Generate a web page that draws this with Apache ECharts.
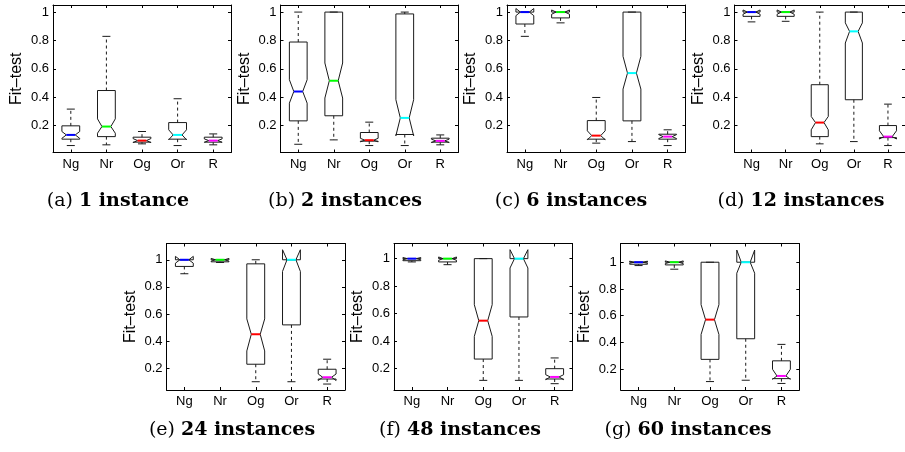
<!DOCTYPE html>
<html>
<head>
<meta charset="utf-8">
<script src="https://cdn.jsdelivr.net/npm/echarts@6/dist/echarts.min.js"></script>
<style>
html,body{margin:0;padding:0;background:#fff;}
#chart{width:905px;height:452px;}
</style>
</head>
<body>
<div id="chart"></div>
<script>
// Categories and ticks
const categories = ['Ng', 'Nr', 'Og', 'Or', 'R'];
const yTicks = [0.2, 0.4, 0.6, 0.8, 1];
const medianColors = ['#0000ff', '#00ff00', '#ff0000', '#00ffff', '#ff00ff'];

// Each row: [min, q1, notchLow, median, notchHigh, q3, max]
const panelA = [
  [0.059, 0.104, 0.110, 0.134, 0.158, 0.198, 0.316],
  [0.064, 0.122, 0.146, 0.193, 0.247, 0.447, 0.829],
  [0.071, 0.083, 0.080, 0.094, 0.108, 0.118, 0.158],
  [0.059, 0.104, 0.100, 0.134, 0.170, 0.221, 0.389],
  [0.064, 0.083, 0.082, 0.094, 0.106, 0.118, 0.141]
];
const panelB = [
  [0.068, 0.233, 0.358, 0.440, 0.523, 0.789, 1.000],
  [0.099, 0.269, 0.394, 0.516, 0.641, 1.000, 1.000],
  [0.059, 0.090, 0.085, 0.097, 0.110, 0.151, 0.224],
  [0.059, 0.137, 0.128, 0.254, 0.382, 0.987, 1.000],
  [0.064, 0.083, 0.080, 0.092, 0.104, 0.111, 0.134]
];
const panelC = [
  [0.829, 0.916, 0.975, 1.000, 1.025, 1.000, 1.000],
  [0.924, 0.959, 0.985, 1.000, 1.015, 1.000, 1.000],
  [0.076, 0.104, 0.100, 0.129, 0.163, 0.235, 0.398],
  [0.087, 0.233, 0.457, 0.570, 0.688, 1.000, 1.000],
  [0.059, 0.104, 0.108, 0.122, 0.136, 0.139, 0.170]
];
const panelD = [
  [0.931, 0.970, 0.985, 1.000, 1.015, 1.000, 1.000],
  [0.935, 0.970, 0.985, 1.000, 1.015, 1.000, 1.000],
  [0.071, 0.122, 0.170, 0.221, 0.264, 0.488, 1.000],
  [0.087, 0.382, 0.782, 0.864, 0.924, 1.000, 1.000],
  [0.059, 0.115, 0.105, 0.122, 0.163, 0.200, 0.351]
];
const panelE = [
  [0.897, 0.951, 0.975, 1.000, 1.025, 1.000, 1.000],
  [0.980, 0.985, 0.990, 1.000, 1.010, 1.000, 1.000],
  [0.101, 0.230, 0.328, 0.451, 0.564, 0.970, 1.000],
  [0.101, 0.520, 0.914, 1.000, 1.074, 1.000, 1.000],
  [0.084, 0.121, 0.110, 0.134, 0.158, 0.193, 0.267]
];
const panelF = [
  [0.976, 0.985, 0.992, 1.000, 1.008, 1.000, 1.000],
  [0.956, 0.976, 0.988, 1.000, 1.012, 1.000, 1.000],
  [0.115, 0.270, 0.435, 0.549, 0.665, 1.000, 1.000],
  [0.115, 0.576, 0.932, 1.000, 1.065, 1.000, 1.000],
  [0.091, 0.125, 0.120, 0.140, 0.156, 0.200, 0.278]
];
const panelG = [
  [0.975, 0.985, 0.992, 1.000, 1.008, 1.000, 1.000],
  [0.948, 0.980, 0.990, 1.000, 1.010, 1.000, 1.000],
  [0.108, 0.274, 0.460, 0.571, 0.683, 1.000, 1.000],
  [0.118, 0.428, 0.918, 1.000, 1.091, 1.000, 1.000],
  [0.094, 0.130, 0.125, 0.150, 0.200, 0.263, 0.386]
];

const panelLetters = ['(a)', '(b)', '(c)', '(d)', '(e)', '(f)', '(g)'];
const panelCaptions = ['1 instance', '2 instances', '6 instances', '12 instances', '24 instances', '48 instances', '60 instances'];
const yMins = [0.01, 0.01, 0.01, 0.01, 0.04, 0.045, 0.045];
const yMaxs = [1.05, 1.05, 1.05, 1.05, 1.12, 1.11, 1.14];

const panelData = [panelA, panelB, panelC, panelD, panelE, panelF, panelG];

// layout (pixels)
const layout = [
  {left: 53,    top: 5,     width: 178,   height: 147.5, capX: 118, capY: 201},
  {left: 280.5, top: 5,     width: 177.5, height: 147.5, capX: 345, capY: 201},
  {left: 507,   top: 5,     width: 178.5, height: 147.5, capX: 571, capY: 201},
  {left: 734.5, top: 5,     width: 177.5, height: 147.5, capX: 801, capY: 201},
  {left: 166.5, top: 243.5, width: 178.5, height: 146.5, capX: 232, capY: 430},
  {left: 394,   top: 243.5, width: 178.5, height: 146.5, capX: 460, capY: 430},
  {left: 620.7, top: 243.5, width: 178.6, height: 146.5, capX: 688, capY: 430}
];

const SANS = 'Liberation Sans, Arial, sans-serif';
const SERIF = 'DejaVu Serif, serif';

function renderBox(params, api) {
  const i = api.value(0);
  const mn = api.value(1), q1 = api.value(2), nlo = api.value(3), med = api.value(4),
        nhi = api.value(5), q3 = api.value(6), mx = api.value(7);
  const cx = api.coord([i, med])[0];
  const bw = api.size([1, 0])[0] * 0.5;
  const hw = bw / 2;
  const y = v => api.coord([i, v])[1];
  const capHalf = hw * 0.45;
  const stroke = '#1a1a1a';
  const children = [];
  // whiskers
  children.push({type: 'line', shape: {x1: cx, y1: y(q3), x2: cx, y2: y(mx)},
    style: {stroke: stroke, lineWidth: 1, lineDash: [3, 3]}});
  children.push({type: 'line', shape: {x1: cx, y1: y(q1), x2: cx, y2: y(mn)},
    style: {stroke: stroke, lineWidth: 1, lineDash: [3, 3]}});
  children.push({type: 'line', shape: {x1: cx - capHalf, y1: y(mx), x2: cx + capHalf, y2: y(mx)},
    style: {stroke: stroke, lineWidth: 1}});
  children.push({type: 'line', shape: {x1: cx - capHalf, y1: y(mn), x2: cx + capHalf, y2: y(mn)},
    style: {stroke: stroke, lineWidth: 1}});
  // notched box
  const pts = [
    [cx - hw, y(q1)], [cx - hw, y(nlo)], [cx - hw / 2, y(med)], [cx - hw, y(nhi)], [cx - hw, y(q3)],
    [cx + hw, y(q3)], [cx + hw, y(nhi)], [cx + hw / 2, y(med)], [cx + hw, y(nlo)], [cx + hw, y(q1)]
  ];
  children.push({type: 'polygon', shape: {points: pts},
    style: {fill: 'none', stroke: stroke, lineWidth: 1}});
  // median
  children.push({type: 'line', shape: {x1: cx - hw / 2, y1: y(med), x2: cx + hw / 2, y2: y(med)},
    style: {stroke: medianColors[i], lineWidth: 2}});
  return {type: 'group', children: children};
}

const grids = [], xAxes = [], yAxes = [], series = [], graphics = [];
panelData.forEach((rows, k) => {
  const L = layout[k];
  grids.push({left: L.left, top: L.top, width: L.width, height: L.height, show: false});
  const tickStyle = {lineStyle: {color: '#000', width: 1}};
  xAxes.push({
    gridIndex: k, type: 'category', data: categories, position: 'bottom',
    axisLine: {show: true, lineStyle: {color: '#000', width: 1}},
    axisTick: Object.assign({show: true, inside: true, alignWithLabel: true, length: 3}, tickStyle),
    axisLabel: {color: '#000', fontSize: 13, fontFamily: SANS, margin: 5},
    splitLine: {show: false}
  });
  xAxes.push({
    gridIndex: k, type: 'category', data: categories, position: 'top',
    axisLine: {show: true, lineStyle: {color: '#000', width: 1}},
    axisTick: Object.assign({show: true, inside: true, alignWithLabel: true, length: 3}, tickStyle),
    axisLabel: {show: false},
    splitLine: {show: false}
  });
  yAxes.push({
    gridIndex: k, type: 'value', min: yMins[k], max: yMaxs[k], position: 'left',
    axisLine: {show: true, lineStyle: {color: '#000', width: 1}},
    axisTick: Object.assign({show: true, inside: true, length: 3, customValues: yTicks}, tickStyle),
    axisLabel: {color: '#000', fontSize: 13, fontFamily: SANS, margin: 4, customValues: yTicks,
      formatter: v => String(Math.round(v * 10) / 10)},
    splitLine: {show: false},
    name: 'Fit\u2013test', nameLocation: 'middle', nameGap: 28,
    nameTextStyle: {color: '#000', fontSize: 16, fontFamily: SANS}
  });
  yAxes.push({
    gridIndex: k, type: 'value', min: yMins[k], max: yMaxs[k], position: 'right',
    axisLine: {show: true, lineStyle: {color: '#000', width: 1}},
    axisTick: Object.assign({show: true, inside: true, length: 3, customValues: yTicks}, tickStyle),
    axisLabel: {show: false},
    splitLine: {show: false}
  });
  series.push({
    type: 'custom', xAxisIndex: 2 * k, yAxisIndex: 2 * k,
    data: rows.map((r, i) => [i].concat(r)),
    encode: {x: 0, y: [1, 2, 3, 4, 5, 6, 7]},
    renderItem: renderBox, silent: true, clip: false
  });
  graphics.push({
    type: 'text', x: L.capX, y: L.capY,
    style: {
      text: '{r|' + panelLetters[k] + '} {b|' + panelCaptions[k] + '}',
      align: 'center', verticalAlign: 'middle',
      rich: {
        r: {fontFamily: SERIF, fontSize: 19, fontWeight: 'normal', fill: '#000'},
        b: {fontFamily: SERIF, fontSize: 19, fontWeight: 'bold', fill: '#000'}
      },
      fontFamily: SERIF, fontSize: 19, fill: '#000'
    }
  });
});

const chart = echarts.init(document.getElementById('chart'), null, {renderer: 'canvas'});
chart.setOption({
  animation: false,
  backgroundColor: '#fff',
  grid: grids, xAxis: xAxes, yAxis: yAxes, series: series,
  graphic: graphics
});
</script>
</body>
</html>
